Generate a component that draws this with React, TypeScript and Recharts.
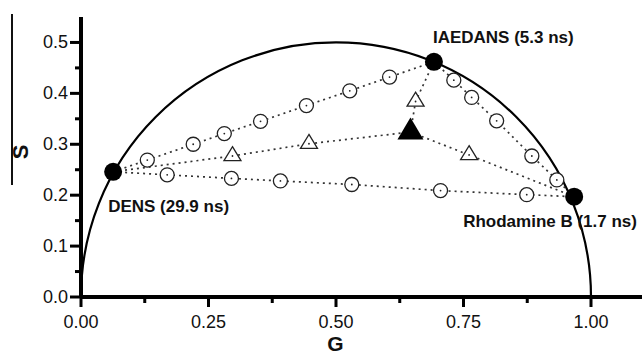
import React from 'react';
import { ScatterChart, Scatter, XAxis, YAxis, ReferenceArea, Label } from 'recharts';

// ---- data (G, S phasor coordinates) ----
const pureNames = ['DENS (29.9 ns)', 'IAEDANS (5.3 ns)', 'Rhodamine B (1.7 ns)'];
const pureG = [0.063, 0.692, 0.967];
const pureS = [0.246, 0.462, 0.197];

const mixtureG = [0.646];
const mixtureS = [0.324];

const densIaedans = [
  { g: 0.130, s: 0.269 },
  { g: 0.220, s: 0.300 },
  { g: 0.281, s: 0.321 },
  { g: 0.352, s: 0.345 },
  { g: 0.442, s: 0.376 },
  { g: 0.527, s: 0.405 },
  { g: 0.605, s: 0.432 },
];
const densRhodamine = [
  { g: 0.169, s: 0.240 },
  { g: 0.295, s: 0.233 },
  { g: 0.391, s: 0.228 },
  { g: 0.531, s: 0.221 },
  { g: 0.705, s: 0.209 },
  { g: 0.874, s: 0.201 },
];
const iaedansRhodamine = [
  { g: 0.731, s: 0.426 },
  { g: 0.766, s: 0.392 },
  { g: 0.815, s: 0.346 },
  { g: 0.884, s: 0.277 },
  { g: 0.933, s: 0.230 },
];
const densMixture = [
  { g: 0.297, s: 0.277 },
  { g: 0.447, s: 0.301 },
];
const mixtureIaedans = [{ g: 0.656, s: 0.384 }];
const mixtureRhodamine = [{ g: 0.761, s: 0.279 }];

// universal semicircle extent
const arcG = [0, 1];
const arcTopS = 0.5;

const xTicks = [0, 0.125, 0.25, 0.375, 0.5, 0.625, 0.75, 0.875, 1.0];
const yTicks = [0, 0.05, 0.1, 0.15, 0.2, 0.25, 0.3, 0.35, 0.4, 0.45, 0.5];
const xDomain = [0, 1.1];
const yDomain = [0, 0.55];

// ---- derived tables ----
const pure = pureNames.map((name, i) => ({ name, g: pureG[i], s: pureS[i] }));
const mixture = mixtureG.map((g, i) => ({ g, s: mixtureS[i] }));
const [DENS, IAEDANS, RHOD] = pure;
const MIX = mixture[0];

const lineSets = [
  [DENS, ...densIaedans, IAEDANS],
  [DENS, ...densRhodamine, RHOD],
  [IAEDANS, ...iaedansRhodamine, RHOD],
  [DENS, ...densMixture, MIX],
  [MIX, ...mixtureIaedans, IAEDANS],
  [MIX, ...mixtureRhodamine, RHOD],
];
const openCircles = [...densIaedans, ...densRhodamine, ...iaedansRhodamine];
const openTriangles = [...densMixture, ...mixtureIaedans, ...mixtureRhodamine];

// ---- styles ----
const FONT = "Arial, 'Liberation Sans', Helvetica, sans-serif";
const labelOffsets: Record<string, { dx: number; dy: number }> = {
  'DENS (29.9 ns)': { dx: -5, dy: 40 },
  'IAEDANS (5.3 ns)': { dx: -1, dy: -19 },
  'Rhodamine B (1.7 ns)': { dx: -111, dy: 30 },
};

const isMajor = (v: number, step: number) => Math.abs(v / step - Math.round(v / step)) < 1e-6;

const renderXTick = (props: any) => {
  const { x, y, payload } = props;
  const v = payload.value as number;
  const major = isMajor(v, 0.25);
  return (
    <g>
      <rect x={x - 1.5} y={y} width={3} height={major ? 10 : 6} fill="#000" />
      {major && (
        <text x={x} y={y + 31} textAnchor="middle" fontSize={18} fill="#111" fontFamily={FONT}>
          {v.toFixed(2)}
        </text>
      )}
    </g>
  );
};

const renderYTick = (props: any) => {
  const { x, y, payload } = props;
  const v = payload.value as number;
  const major = isMajor(v, 0.1);
  const len = major ? 11 : 6;
  return (
    <g>
      <rect x={x - len} y={y - 1.5} width={len} height={3} fill="#000" />
      {major && (
        <text x={x - 13} y={y + 6} textAnchor="end" fontSize={18} fill="#111" fontFamily={FONT}>
          {v.toFixed(1)}
        </text>
      )}
    </g>
  );
};

const NoShape = () => <g />;

const OpenCircle = (props: any) => {
  const { cx, cy } = props;
  return (
    <g>
      <circle cx={cx} cy={cy} r={7} fill="#fff" stroke="#222" strokeWidth={1.3} />
      <circle cx={cx} cy={cy} r={0.9} fill="#222" />
    </g>
  );
};

const OpenTriangle = (props: any) => {
  const { cx, cy } = props;
  const w = 17;
  const h = 14;
  return (
    <g>
      <path
        d={`M${cx},${cy - (2 * h) / 3} L${cx + w / 2},${cy + h / 3} L${cx - w / 2},${cy + h / 3} Z`}
        fill="#fff"
        stroke="#222"
        strokeWidth={1.3}
      />
      <circle cx={cx} cy={cy} r={0.9} fill="#222" />
    </g>
  );
};

const FilledTriangle = (props: any) => {
  const { cx, cy } = props;
  const w = 26;
  const h = 22;
  return (
    <path
      d={`M${cx},${cy - (2 * h) / 3} L${cx + w / 2},${cy + h / 3} L${cx - w / 2},${cy + h / 3} Z`}
      fill="#000"
    />
  );
};

const PureDot = (props: any) => {
  const { cx, cy, payload } = props;
  const off = labelOffsets[payload.name] || { dx: 0, dy: 0 };
  return (
    <g>
      <circle cx={cx} cy={cy} r={9} fill="#000" />
      <text
        x={cx + off.dx}
        y={cy + off.dy}
        fontSize={17}
        fontWeight="bold"
        fill="#111"
        fontFamily={FONT}
      >
        {payload.name}
      </text>
    </g>
  );
};

const ArcShape = (p: any) => {
  const { x, y, width, height } = p;
  const bottom = y + height;
  return (
    <path
      d={`M${x},${bottom} A${width / 2},${height} 0 0 1 ${x + width},${bottom}`}
      fill="none"
      stroke="#000"
      strokeWidth={2.2}
    />
  );
};

const lineStyle = { stroke: '#333', strokeWidth: 1.7, strokeDasharray: '2 4' };
const axisLineStyle = { stroke: '#000', strokeWidth: 4 };

export default function App() {
  return (
    <div
      style={{
        position: 'fixed',
        left: 0,
        top: 0,
        width: 642,
        height: 355,
        background: '#fff',
        overflow: 'hidden',
      }}
    >
      <div
        style={{ position: 'absolute', left: 11, top: 14, width: 1.5, height: 171, background: '#111' }}
      />
      <ScatterChart width={642} height={355} margin={{ top: 17, right: 0, bottom: 28, left: 21 }}>
        <XAxis
          type="number"
          dataKey="g"
          domain={xDomain}
          ticks={xTicks}
          allowDataOverflow
          interval={0}
          tickSize={0}
          tickMargin={0}
          tick={renderXTick}
          tickLine={false}
          stroke="#000"
          strokeWidth={4}
          axisLine={axisLineStyle}
          height={30}
        >
          <Label
            content={(lp: any) => {
              const vb = lp.viewBox || { x: 81, y: 297, width: 561, height: 30 };
              return (
                <text
                  x={vb.x + vb.width / 2 - 26}
                  y={vb.y + vb.height + 24}
                  textAnchor="middle"
                  fontSize={21}
                  fontWeight="bold"
                  fill="#111"
                  fontFamily={FONT}
                >
                  G
                </text>
              );
            }}
          />
        </XAxis>
        <YAxis
          type="number"
          dataKey="s"
          domain={yDomain}
          ticks={yTicks}
          allowDataOverflow
          interval={0}
          tickSize={0}
          tickMargin={0}
          tick={renderYTick}
          tickLine={false}
          stroke="#000"
          strokeWidth={4}
          axisLine={axisLineStyle}
          width={60}
        >
          <Label
            content={(lp: any) => {
              const vb = lp.viewBox || { x: 21, y: 17, width: 60, height: 280 };
              const cx = vb.x - 1;
              const cy = vb.y + vb.height / 2 - 5;
              return (
                <text
                  x={cx}
                  y={cy}
                  transform={`rotate(-90, ${cx}, ${cy})`}
                  textAnchor="middle"
                  dominantBaseline="central"
                  fontSize={22}
                  fontWeight="bold"
                  fill="#111"
                  fontFamily={FONT}
                >
                  S
                </text>
              );
            }}
          />
        </YAxis>
        <ReferenceArea
          x1={arcG[0]}
          x2={arcG[1]}
          y1={0}
          y2={arcTopS}
          shape={ArcShape}
          ifOverflow="visible"
        />
        {lineSets.map((d, i) => (
          <Scatter
            key={`line-${i}`}
            data={d}
            line={lineStyle}
            lineType="joint"
            shape={NoShape}
            isAnimationActive={false}
          />
        ))}
        <Scatter data={openCircles} shape={OpenCircle} isAnimationActive={false} />
        <Scatter data={openTriangles} shape={OpenTriangle} isAnimationActive={false} />
        <Scatter data={mixture} shape={FilledTriangle} isAnimationActive={false} />
        <Scatter data={pure} shape={PureDot} isAnimationActive={false} />
      </ScatterChart>
    </div>
  );
}
